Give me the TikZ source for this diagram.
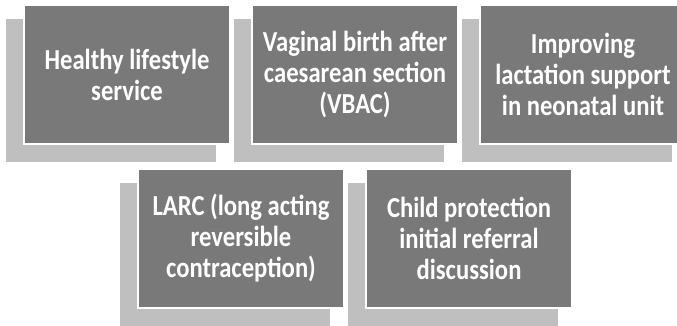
\documentclass[tikz,border=0pt]{standalone}
\usepackage{fontspec}
\newfontfamily\boxfont{Carlito}[FakeStretch=0.85]
\definecolor{boxgray}{RGB}{121,121,121}
\definecolor{shadowgray}{RGB}{191,191,191}
\usetikzlibrary{backgrounds}

\begin{document}
\begin{tikzpicture}[x=1pt, y=-1pt,
  topicbox/.style={
    rectangle, draw=white, line width=2pt, fill=boxgray,
    minimum width=206pt, minimum height=139pt, outer sep=0pt,
    align=center, text=white,
    font=\boxfont\bfseries\fontsize{29}{31}\selectfont,
  },
  backbar/.style={
    fill=shadowgray,
  },
]
\useasboundingbox (0,0) rectangle (677,325);
\clip (0,0) rectangle (677,325);

% --- Top row ---
\node[topicbox] (lifestyle) at (127,74.5) {Healthy lifestyle\\service};
\node[topicbox] (vbac) at (355,74.5) {Vaginal birth after\\caesarean section\\(VBAC)};
\node[topicbox] (lactation) at (583,74.5) {Improving\\lactation support\\in neonatal unit};

% --- Bottom row ---
\node[topicbox] (larc) at (241,238.5) {LARC (long acting\\reversible\\contraception)};
\node[topicbox] (childprot) at (469,238.5) {Child protection\\initial referral\\discussion};

% --- Shadows ---
\begin{scope}[on background layer]
  \foreach \n in {lifestyle, vbac, lactation, larc, childprot}
    \fill[backbar] ([shift={(-18,14)}]\n.north west) rectangle ([shift={(-14,18)}]\n.south east);
\end{scope}

\end{tikzpicture}
\end{document}
